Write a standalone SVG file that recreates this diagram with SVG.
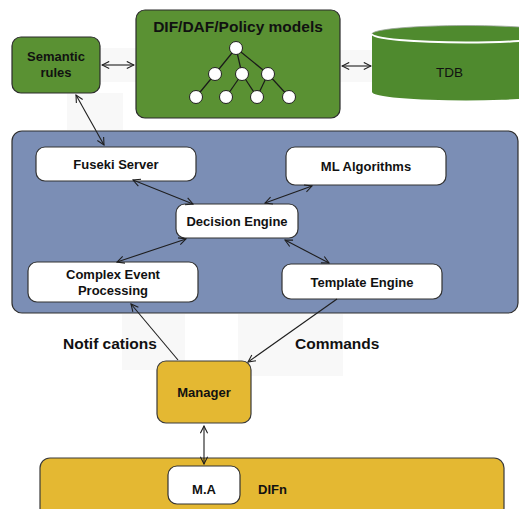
<svg xmlns="http://www.w3.org/2000/svg" width="519" height="509" viewBox="0 0 519 509">
  <style>
    .lbl { font-family: "Liberation Sans", Arial, sans-serif; font-weight: bold; fill: #111; }
    .n13 { font-size: 13px; text-anchor: middle; }
    .green { fill: #5a9133; stroke: #2b2b2b; stroke-width: 1.2; }
    .box { fill: #ffffff; stroke: #333; stroke-width: 1.2; }
    .yellow { fill: #e4b832; stroke: #3a3a3a; stroke-width: 1.2; }
    .edge { stroke: #1e1e1e; stroke-width: 1.1; fill: none; }
    .tree line { stroke: #1a1a1a; stroke-width: 1.2; }
    .tree circle { fill: #fff; stroke: #222; stroke-width: 1; }
    .haze { fill: #f8f8f8; }
  </style>
  <defs>
    <marker id="vh" viewBox="0 0 10 10" refX="9" refY="5" markerWidth="9" markerHeight="9" markerUnits="userSpaceOnUse" orient="auto-start-reverse">
      <path d="M1,1 L9,5 L1,9" fill="none" stroke="#1e1e1e" stroke-width="1.2"/>
    </marker>
  </defs>

  <rect width="519" height="509" fill="#ffffff"/>

  <!-- light backdrops behind connectors and labels -->
  <rect class="haze" x="100" y="48" width="36" height="34"/>
  <rect class="haze" x="340" y="50" width="33" height="32"/>
  <rect class="haze" x="67" y="93" width="56" height="37"/>
  <rect class="haze" x="122" y="314" width="63" height="56"/>
  <rect class="haze" x="238" y="314" width="105" height="62"/>

  <!-- semantic rules -->
  <g id="semantic-rules">
    <rect class="green" x="12" y="37" width="88" height="56" rx="9"/>
    <text class="lbl n13" x="56" y="61">Semantic</text>
    <text class="lbl n13" x="56" y="77">rules</text>
  </g>

  <!-- policy models with tree -->
  <g id="policy-models">
    <rect class="green" x="136" y="10" width="204" height="108" rx="9"/>
    <text class="lbl" x="238" y="32" font-size="15.5" text-anchor="middle">DIF/DAF/Policy models</text>
    <g class="tree">
      <line x1="236" y1="48" x2="215" y2="74"/>
      <line x1="236" y1="48" x2="242" y2="74"/>
      <line x1="236" y1="48" x2="268" y2="74"/>
      <line x1="215" y1="74" x2="196" y2="97"/>
      <line x1="242" y1="74" x2="226" y2="97"/>
      <line x1="242" y1="74" x2="257" y2="97"/>
      <line x1="268" y1="74" x2="257" y2="97"/>
      <line x1="268" y1="74" x2="289" y2="97"/>
      <circle cx="236" cy="48" r="6.5"/>
      <circle cx="215" cy="74" r="6.5"/>
      <circle cx="242" cy="74" r="6.5"/>
      <circle cx="268" cy="74" r="6.5"/>
      <circle cx="196" cy="97" r="6.5"/>
      <circle cx="226" cy="97" r="6.5"/>
      <circle cx="257" cy="97" r="6.5"/>
      <circle cx="289" cy="97" r="6.5"/>
    </g>
  </g>

  <!-- TDB store -->
  <g id="tdb">
    <path d="M372,34 L372,92 A94,8.5 0 0 0 560,92 L560,34 Z" fill="#4f8a2e"/>
    <ellipse cx="466" cy="34" rx="94" ry="8.5" fill="#4f8a2e" stroke="#9aa39a" stroke-width="0.8"/>
    <path d="M372,34 A94,8.5 0 0 0 560,34" fill="none" stroke="#ffffff" stroke-width="2"/>
    <text x="449.5" y="77" font-family="Liberation Sans, Arial, sans-serif" font-size="13.5" text-anchor="middle" fill="#111">TDB</text>
  </g>

  <!-- platform container -->
  <g id="platform">
    <rect x="12" y="131" width="506" height="182" rx="10" fill="#7b8eb5" stroke="#2e2e2e" stroke-width="1.2"/>
  </g>

  <g id="fuseki-server">
    <rect class="box" x="36" y="147" width="160" height="34" rx="9"/>
    <text class="lbl n13" x="116" y="169">Fuseki Server</text>
  </g>

  <g id="ml-algorithms">
    <rect class="box" x="286" y="147" width="160" height="38" rx="9"/>
    <text class="lbl n13" x="366" y="171">ML Algorithms</text>
  </g>

  <g id="decision-engine">
    <rect class="box" x="176" y="204" width="122" height="34" rx="9"/>
    <text class="lbl n13" x="237" y="226">Decision Engine</text>
  </g>

  <g id="complex-event-processing">
    <rect class="box" x="28" y="262" width="170" height="40" rx="9"/>
    <text class="lbl n13" x="113" y="279">Complex Event</text>
    <text class="lbl n13" x="113" y="295">Processing</text>
  </g>

  <g id="template-engine">
    <rect class="box" x="282" y="264" width="160" height="35" rx="9"/>
    <text class="lbl n13" x="362" y="287">Template Engine</text>
  </g>

  <g id="manager">
    <rect class="yellow" x="157" y="361" width="94" height="62" rx="9"/>
    <text class="lbl n13" x="204" y="397">Manager</text>
  </g>

  <g id="difn">
    <rect class="yellow" x="40" y="458" width="464" height="60" rx="10"/>
    <text class="lbl" x="258" y="494" font-size="13">DIFn</text>
  </g>

  <g id="management-agent">
    <rect class="box" x="168" y="466" width="72" height="38" rx="9"/>
    <text class="lbl n13" x="204" y="494">M.A</text>
  </g>

  <!-- edge labels -->
  <text class="lbl" x="63" y="349" font-size="15.5">Notif cations</text>
  <text class="lbl" x="295" y="349" font-size="15.5">Commands</text>

  <!-- connectors -->
  <g id="connectors">
    <line class="edge" x1="102" y1="65" x2="134" y2="65" marker-start="url(#vh)" marker-end="url(#vh)"/>
    <line class="edge" x1="342" y1="66" x2="371" y2="66" marker-start="url(#vh)" marker-end="url(#vh)"/>
    <line class="edge" x1="76" y1="95" x2="104" y2="145" marker-start="url(#vh)" marker-end="url(#vh)"/>
    <line class="edge" x1="133" y1="180" x2="193" y2="204" marker-start="url(#vh)" marker-end="url(#vh)"/>
    <line class="edge" x1="312" y1="186" x2="265" y2="203" marker-start="url(#vh)" marker-end="url(#vh)"/>
    <line class="edge" x1="186" y1="239" x2="117" y2="262" marker-start="url(#vh)" marker-end="url(#vh)"/>
    <line class="edge" x1="285" y1="240" x2="329" y2="263" marker-start="url(#vh)" marker-end="url(#vh)"/>
    <line class="edge" x1="178" y1="360" x2="131" y2="304" marker-end="url(#vh)"/>
    <line class="edge" x1="337" y1="299" x2="248" y2="362" marker-end="url(#vh)"/>
    <line class="edge" x1="204" y1="426" x2="204" y2="464" marker-start="url(#vh)" marker-end="url(#vh)"/>
  </g>
</svg>
